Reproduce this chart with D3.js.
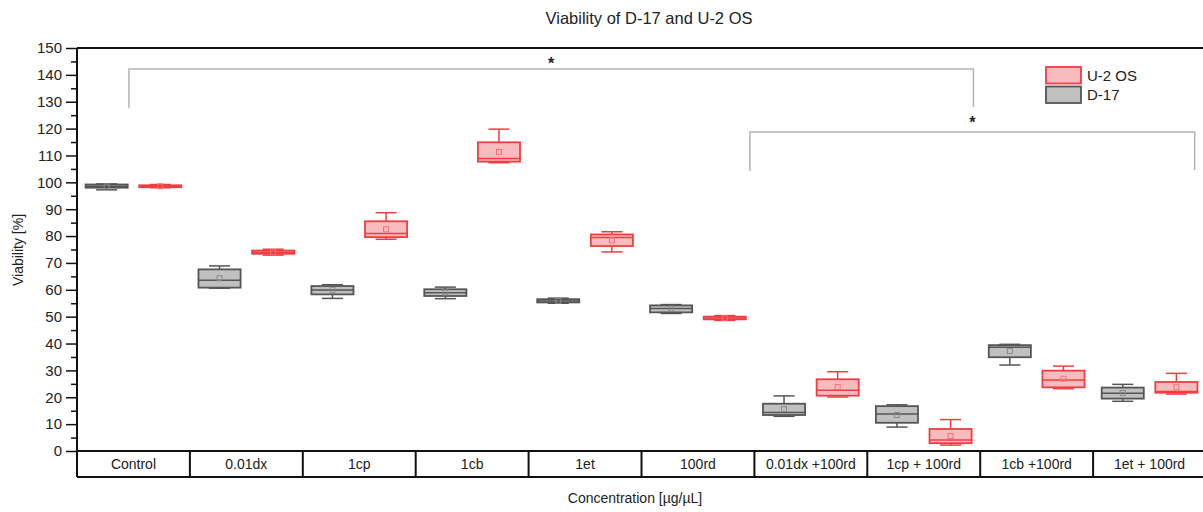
<!DOCTYPE html>
<html>
<head>
<meta charset="utf-8">
<script src="https://cdn.jsdelivr.net/npm/d3@7"></script>
<style>
  body { margin: 0; background: #fff; }
  text { font-family: "Liberation Sans", Arial, sans-serif; fill: #222; }
</style>
</head>
<body>
<svg id="chart"></svg>
<script>
const categories = ['Control', '0.01dx', '1cp', '1cb', '1et', '100rd',
  '0.01dx +100rd', '1cp + 100rd', '1cb +100rd', '1et + 100rd'];
const seriesNames = ['D-17', 'U-2 OS'];

// [min, q1, median, q3, max] per category
const d17Box = [
  [97.2, 98.0, 98.5, 99.2, 99.4],
  [60.6, 60.8, 63.6, 67.6, 68.9],
  [56.8, 58.3, 59.9, 61.4, 61.9],
  [56.7, 57.7, 58.9, 60.2, 61.0],
  [55.0, 55.3, 55.8, 56.5, 56.9],
  [51.2, 51.6, 53.0, 54.2, 54.5],
  [12.9, 13.4, 14.3, 17.6, 20.5],
  [8.9, 10.5, 13.8, 16.7, 17.2],
  [32.0, 34.9, 38.6, 39.4, 39.7],
  [18.5, 19.5, 21.5, 23.6, 24.8]
];
const d17Mean = [98.5, 64.3, 60.0, 59.0, 55.9, 53.0, 15.6, 13.4, 37.2, 21.6];

const u2osBox = [
  [98.0, 98.2, 98.5, 98.9, 99.2],
  [72.9, 73.4, 74.0, 74.6, 75.1],
  [78.8, 79.6, 81.0, 85.5, 88.7],
  [107.3, 107.7, 108.9, 114.9, 119.8],
  [74.1, 76.3, 79.5, 80.6, 81.6],
  [48.6, 49.0, 49.5, 50.0, 50.4],
  [20.1, 20.6, 22.6, 26.7, 29.5],
  [2.2, 2.9, 4.1, 8.2, 11.7],
  [23.2, 23.7, 26.4, 29.9, 31.6],
  [21.2, 21.7, 22.1, 25.7, 28.9]
];
const u2osMean = [98.5, 74.0, 82.5, 111.3, 78.4, 49.5, 23.8, 5.6, 26.9, 23.7];

const yTicks = d3.range(0, 151, 10);
const yMinorTicks = d3.range(5, 150, 10);

// significance brackets: category-index span, line heights and star height (data units)
const brackets = [
  { from: 0.46, to: 7.94, top: 142.2, leftEnd: 127.6, rightEnd: 128.0, star: 146.3 },
  { from: 5.96, to: 9.9, top: 118.7, leftEnd: 104.2, rightEnd: 104.6, star: 124.4 }
];

const W = 1203, H = 512;
const svg = d3.select('#chart').attr('width', W).attr('height', H);
const plotLeft = 77, plotTop = 48, plotBottom = 451, rowH = 26;

const x0 = d3.scaleBand().domain(categories).range([plotLeft, 1206]).padding(0);
const x1 = d3.scaleBand().domain(seriesNames).range([0, x0.bandwidth()])
  .paddingInner(0.215).paddingOuter(0.16);
const xi = d3.scaleLinear().domain([0, categories.length]).range([plotLeft, 1206]);
const y = d3.scaleLinear().domain([0, 150]).range([plotBottom, plotTop]);

const styles = {
  'D-17': { fill: '#c0c0c0', stroke: '#555', mean: '#8a8a8a' },
  'U-2 OS': { fill: '#f9bcbe', stroke: '#ef3e42', mean: '#f07075' }
};

// boxes
const series = [
  { name: 'D-17', box: d17Box, mean: d17Mean },
  { name: 'U-2 OS', box: u2osBox, mean: u2osMean }
];
series.forEach(s => {
  const st = styles[s.name];
  const g = svg.append('g');
  s.box.forEach((b, i) => {
    const bx = x0(categories[i]) + x1(s.name);
    const bw = x1.bandwidth();
    const cx = bx + bw / 2;
    const cap = bw / 2;
    const [mn, q1, md, q3, mx] = b;
    g.append('line').attr('x1', cx).attr('x2', cx).attr('y1', y(mx)).attr('y2', y(q3))
      .attr('stroke', st.stroke).attr('stroke-width', 1.5);
    g.append('line').attr('x1', cx).attr('x2', cx).attr('y1', y(q1)).attr('y2', y(mn))
      .attr('stroke', st.stroke).attr('stroke-width', 1.5);
    [mn, mx].forEach(v => {
      g.append('line').attr('x1', cx - cap / 2).attr('x2', cx + cap / 2)
        .attr('y1', y(v)).attr('y2', y(v))
        .attr('stroke', st.stroke).attr('stroke-width', 1.5);
    });
    g.append('rect').attr('x', bx).attr('y', y(q3)).attr('width', bw)
      .attr('height', Math.max(0.5, y(q1) - y(q3)))
      .attr('fill', st.fill).attr('stroke', st.stroke).attr('stroke-width', 1.8);
    g.append('line').attr('x1', bx).attr('x2', bx + bw).attr('y1', y(md)).attr('y2', y(md))
      .attr('stroke', st.stroke).attr('stroke-width', 1.5);
    g.append('rect').attr('x', cx - 2.5).attr('y', y(s.mean[i]) - 2.5)
      .attr('width', 5).attr('height', 5)
      .attr('fill', 'none').attr('stroke', st.mean).attr('stroke-width', 1);
  });
});

// brackets
brackets.forEach(b => {
  const xl = xi(b.from), xr = xi(b.to);
  svg.append('path')
    .attr('d', `M${xl},${y(b.leftEnd)}V${y(b.top)}H${xr}V${y(b.rightEnd)}`)
    .attr('fill', 'none').attr('stroke', '#b4b4b4').attr('stroke-width', 1.5);
  svg.append('text').attr('x', (xl + xr) / 2).attr('y', y(b.star))
    .attr('dy', '0.7em').attr('text-anchor', 'middle')
    .style('font-size', '16px').style('font-weight', 'bold').text('*');
});

// y axis
const yAxis = svg.append('g').attr('transform', `translate(${plotLeft},0)`)
  .call(d3.axisLeft(y).tickValues(yTicks).tickSize(11).tickPadding(4));
yAxis.select('.domain').remove();
yAxis.selectAll('.tick line').attr('stroke', '#111').attr('stroke-width', 1.5);
yAxis.selectAll('.tick text').style('font-size', '15px')
  .style('font-family', '"Liberation Sans", Arial, sans-serif').attr('fill', '#222');
const yMinor = svg.append('g').attr('transform', `translate(${plotLeft},0)`)
  .call(d3.axisLeft(y).tickValues(yMinorTicks).tickSize(6).tickFormat(''));
yMinor.select('.domain').remove();
yMinor.selectAll('.tick line').attr('stroke', '#111').attr('stroke-width', 1.5);

// frame and category table
svg.append('line').attr('x1', plotLeft).attr('x2', plotLeft).attr('y1', plotTop).attr('y2', plotBottom + rowH)
  .attr('stroke', '#111').attr('stroke-width', 2);
svg.append('line').attr('x1', plotLeft).attr('x2', W).attr('y1', plotTop).attr('y2', plotTop)
  .attr('stroke', '#111').attr('stroke-width', 2);
svg.append('line').attr('x1', plotLeft).attr('x2', W).attr('y1', plotBottom).attr('y2', plotBottom)
  .attr('stroke', '#111').attr('stroke-width', 2);
svg.append('line').attr('x1', plotLeft).attr('x2', W).attr('y1', plotBottom + rowH).attr('y2', plotBottom + rowH)
  .attr('stroke', '#111').attr('stroke-width', 2);
svg.append('g').selectAll('line').data(categories.slice(1)).enter().append('line')
  .attr('x1', d => x0(d)).attr('x2', d => x0(d))
  .attr('y1', plotBottom).attr('y2', plotBottom + rowH)
  .attr('stroke', '#111').attr('stroke-width', 2);
svg.append('g').selectAll('text').data(categories).enter().append('text')
  .attr('x', d => x0(d) + x0.bandwidth() / 2).attr('y', plotBottom + rowH / 2)
  .attr('dy', '0.36em').attr('text-anchor', 'middle')
  .style('font-size', '14px').text(d => d);

// titles
svg.append('text').attr('x', 649).attr('y', 24).attr('text-anchor', 'middle')
  .style('font-size', '16.5px').text('Viability of D-17 and U-2 OS');
svg.append('text').attr('transform', 'translate(23,250) rotate(-90)')
  .attr('text-anchor', 'middle').style('font-size', '14px').text('Viability [%]');
svg.append('text').attr('x', 635).attr('y', 503).attr('text-anchor', 'middle')
  .style('font-size', '14px').text('Concentration [\u00b5g/\u00b5L]');

// legend
const legendOrder = ['U-2 OS', 'D-17'];
const lg = svg.append('g').attr('transform', 'translate(1046,67)');
legendOrder.forEach((name, i) => {
  lg.append('rect').attr('x', 0).attr('y', i * 19.5).attr('width', 35).attr('height', 16.5)
    .attr('fill', styles[name].fill).attr('stroke', styles[name].stroke).attr('stroke-width', 1.8);
  lg.append('text').attr('x', 41).attr('y', i * 19.5 + 8.5).attr('dy', '0.36em')
    .style('font-size', '15px').text(name);
});
</script>
</body>
</html>
